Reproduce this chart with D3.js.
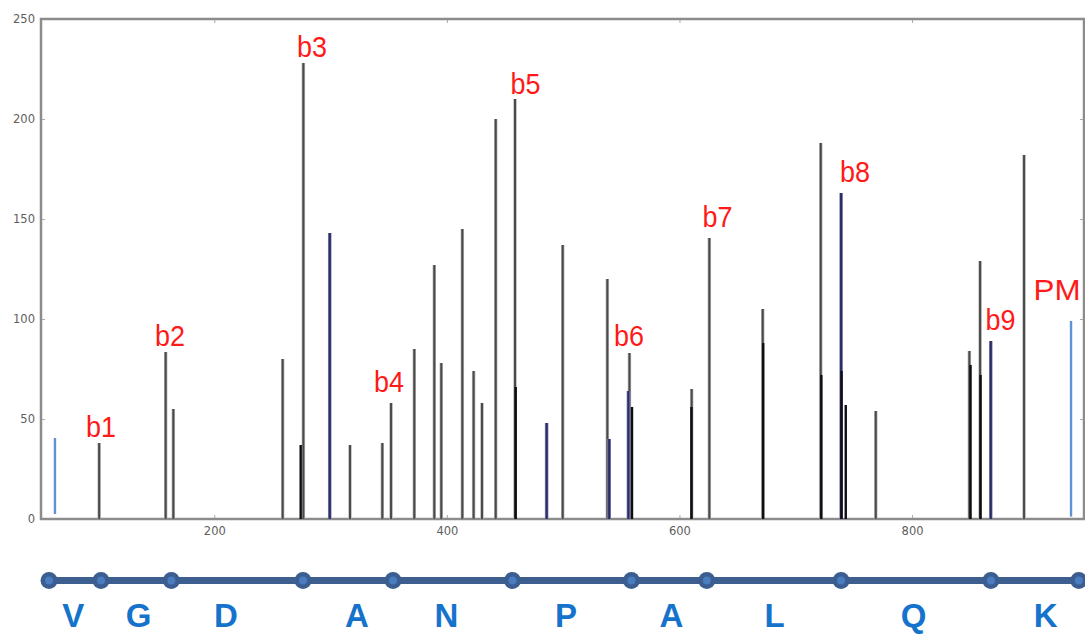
<!DOCTYPE html>
<html>
<head>
<meta charset="utf-8">
<script src="https://cdn.jsdelivr.net/npm/d3@7/dist/d3.min.js"></script>
<style>
  html, body { margin: 0; padding: 0; background: #fff; }
  svg { display: block; }
  .tick text { font-family: "DejaVu Sans", sans-serif; font-size: 11.5px; fill: #5e5e5e; }
</style>
</head>
<body>
<svg id="chart" width="1085" height="634"></svg>
<script>
// Fragment-ion spectrum (m/z vs intensity) with b-ion annotations
// and the peptide sequence ladder underneath.

// Ordinary fragment peaks (grey sticks)
const greyMz  = [101.0, 158.2, 164.8, 258.8, 276.6, 316.7, 344.5, 352.0, 372.0, 389.2,
                 395.2, 413.3, 423.0, 430.2, 442.0, 458.6, 499.6, 538.0, 557.0, 610.5,
                 625.7, 671.6, 721.5, 768.8, 849.3, 858.5, 896.3];
const greyInt = [38, 83.5, 55, 80, 228, 37, 38, 58, 85, 127,
                 78, 145, 74, 58, 200, 210, 137, 120, 83, 65,
                 140.5, 105, 188, 54, 84, 129, 182];

// Overlapping peaks drawn in black
const blackMz  = [274.3, 459.2, 559.2, 610.3, 672.0, 722.0, 739.4, 743.0, 850.3, 858.9];
const blackInt = [37, 66, 56, 56, 88, 72, 74, 57, 77, 72];

// Peaks drawn in dark navy
const navyMz  = [299.3, 485.8, 539.6, 556.1, 739.0, 867.7];
const navyInt = [143, 48, 40, 64, 163, 89];

// Precursor-related markers (light blue), drawn from a low to a high intensity
const blueMz   = [63.0, 936.7];
const blueLow  = [2.5, 1.2];
const blueHigh = [40.5, 99];

// Peak annotations, placed in data coordinates
const labelText = ["b1", "b2", "b3", "b4", "b5", "b6", "b7", "b8", "b9", "PM"];
const labelMz   = [102.6, 162.0, 284.0, 350.3, 467.6, 556.6, 632.8, 751.0, 876.0, 924.7];
const labelInt  = [41, 86.5, 231, 63.5, 212.5, 86.5, 146, 168.5, 94.5, 109.5];

// Sequence ladder: node positions (m/z) and residue letters (m/z of their centres)
const ladderMz   = [57.9, 102.6, 163.1, 276.3, 353.7, 456.4, 558.7, 623.5, 739.0, 867.8, 943.4];
const residues   = ["V", "G", "D", "A", "N", "P", "A", "L", "Q", "K"];
const residueMz  = [78.7, 134.9, 210.1, 322.7, 399.6, 502.5, 593.1, 681.8, 801.4, 914.9];

// Axis ticks
const xTicks = [200, 400, 600, 800];
const yTicks = [0, 50, 100, 150, 200, 250];

const svg = d3.select("#chart");
const plotLeft = 41, plotRight = 1084, plotTop = 19, plotBottom = 519;

const x = d3.scaleLinear().domain([51, 947]).range([plotLeft, 1083]);
const y = d3.scaleLinear().domain([0, 250]).range([plotBottom, plotTop]);

// Axes with inward ticks on all four sides
const frameColor = "#8c8c8c";
const gx = svg.append("g").attr("transform", `translate(0,${plotBottom})`)
  .call(d3.axisBottom(x).tickValues(xTicks).tickSizeInner(-4).tickSizeOuter(0).tickPadding(8).tickFormat(d3.format("d")));
const gy = svg.append("g").attr("transform", `translate(${plotLeft},0)`)
  .call(d3.axisLeft(y).tickValues(yTicks).tickSizeInner(-4).tickSizeOuter(0).tickPadding(6).tickFormat(d3.format("d")));
const gt = svg.append("g").attr("transform", `translate(0,${plotTop})`)
  .call(d3.axisTop(x).tickValues(xTicks).tickSizeInner(-4).tickSizeOuter(0).tickFormat(""));
const gr = svg.append("g").attr("transform", `translate(${plotRight},0)`)
  .call(d3.axisRight(y).tickValues(yTicks).tickSizeInner(-4).tickSizeOuter(0).tickFormat(""));
[gx, gy, gt, gr].forEach(g => {
  g.select(".domain").remove();
  g.selectAll(".tick line").attr("stroke", "#aaa").attr("stroke-width", 1);
});

// Frame
svg.append("rect")
  .attr("x", plotLeft).attr("y", plotTop)
  .attr("width", plotRight - plotLeft).attr("height", plotBottom - plotTop)
  .attr("fill", "none").attr("stroke", frameColor).attr("stroke-width", 2.5);

// Stick peaks
const sticks = svg.append("g");
function drawSticks(mz, lo, hi, color, width, edge) {
  const data = d3.zip(mz, lo, hi);
  if (edge) {
    sticks.selectAll(null).data(data).enter().append("line")
      .attr("x1", d => x(d[0])).attr("x2", d => x(d[0]))
      .attr("y1", d => y(d[1])).attr("y2", d => y(d[2]))
      .attr("stroke", edge).attr("stroke-width", width + 1.4);
  }
  sticks.selectAll(null).data(data).enter().append("line")
    .attr("x1", d => x(d[0])).attr("x2", d => x(d[0]))
    .attr("y1", d => y(d[1])).attr("y2", d => y(d[2]))
    .attr("stroke", color).attr("stroke-width", width);
}
const zeros = n => new Array(n).fill(0);
drawSticks(greyMz, zeros(greyMz.length), greyInt, "#4a4a4a", 2, "#b4b4b4");
drawSticks(navyMz, zeros(navyMz.length), navyInt, "#2b2e66", 2.2, "#8a8cb0");
drawSticks(blackMz, zeros(blackMz.length), blackInt, "#0d0d14", 2.4, null);
drawSticks(blueMz, blueLow, blueHigh, "#5f92d6", 2.4, null);

// Peak labels
svg.append("g").selectAll("text").data(d3.zip(labelText, labelMz, labelInt)).enter()
  .append("text")
  .attr("x", d => x(d[1])).attr("y", d => y(d[2]))
  .attr("text-anchor", "middle")
  .attr("font-family", "'Liberation Sans', Arial, sans-serif")
  .attr("font-size", 29)
  .attr("textLength", d => d[0] === "PM" ? 47 : 30)
  .attr("lengthAdjust", "spacingAndGlyphs")
  .attr("fill", "#ff1a1a")
  .text(d => d[0]);

// Sequence ladder
const ladderY = 580.5;
const ladder = svg.append("g");
ladder.append("line")
  .attr("x1", x(ladderMz[0])).attr("x2", 1085)
  .attr("y1", ladderY).attr("y2", ladderY)
  .attr("stroke", "#3d5f8f").attr("stroke-width", 7);
ladder.selectAll("circle.node").data(ladderMz).enter().append("circle")
  .attr("class", "node")
  .attr("cx", d => x(d)).attr("cy", ladderY).attr("r", 8.5)
  .attr("fill", "#3c5d90");
ladder.selectAll("circle.core").data(ladderMz).enter().append("circle")
  .attr("class", "core")
  .attr("cx", d => x(d)).attr("cy", ladderY).attr("r", 4)
  .attr("fill", "#4a7cc0");

ladder.selectAll("text").data(d3.zip(residues, residueMz)).enter().append("text")
  .attr("x", d => x(d[1])).attr("y", 627)
  .attr("text-anchor", "middle")
  .attr("font-family", "'Liberation Sans', Arial, sans-serif")
  .attr("font-weight", "bold")
  .attr("font-size", 33)
  .attr("fill", "#1573cc")
  .text(d => d[0]);
</script>
</body>
</html>
